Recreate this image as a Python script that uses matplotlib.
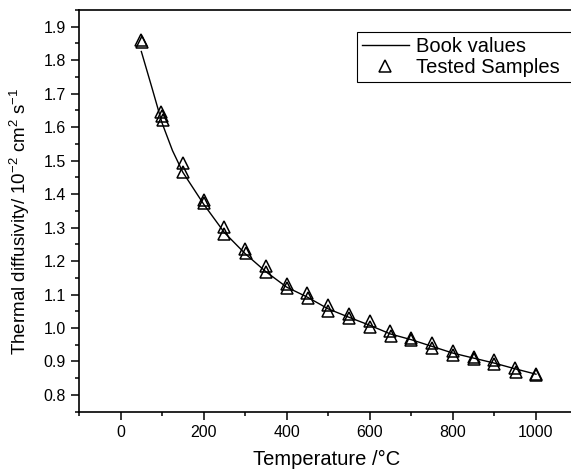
import matplotlib
matplotlib.use('Agg')
import matplotlib.pyplot as plt
from matplotlib.ticker import MultipleLocator

plt.rcParams['font.family'] = ['Liberation Sans', 'DejaVu Sans']
plt.rcParams['mathtext.fontset'] = 'custom'
plt.rcParams['mathtext.rm'] = 'Liberation Sans'
plt.rcParams['mathtext.it'] = 'Liberation Sans'
plt.rcParams['mathtext.default'] = 'regular'

# book values (line)
book_temp = [50, 75, 100, 125, 150, 200, 250, 300, 350, 400, 450, 500,
             550, 600, 650, 700, 750, 800, 850, 900, 950, 1000]
book_diff = [1.826, 1.72, 1.612, 1.53, 1.465, 1.37, 1.285, 1.222, 1.168, 1.122, 1.092, 1.057,
             1.032, 1.008, 0.982, 0.965, 0.945, 0.925, 0.91, 0.895, 0.878, 0.862]

# tested samples (triangles)
sample_temp = [48, 52, 98, 100, 102, 150, 150, 200, 202, 250, 250, 299, 301,
               349, 351, 400, 400, 449, 451, 500, 500, 549, 551, 600, 600,
               649, 651, 700, 700, 750, 750, 800, 800, 850, 850, 900, 900,
               949, 951, 1000, 1000]
sample_diff = [1.860, 1.855, 1.645, 1.632, 1.620, 1.493, 1.466, 1.383, 1.372, 1.301, 1.280,
               1.235, 1.223, 1.184, 1.166, 1.130, 1.118, 1.105, 1.091, 1.068, 1.050,
               1.043, 1.031, 1.020, 1.002, 0.990, 0.975, 0.969, 0.965, 0.954, 0.939,
               0.930, 0.918, 0.912, 0.908, 0.903, 0.891, 0.879, 0.870, 0.864, 0.860]

fig = plt.figure(figsize=(5.71, 4.72), dpi=100)
ax = fig.add_axes([0.1384, 0.1278, 0.873, 0.851])

ax.plot(book_temp, book_diff, color='black', lw=1.0, label='Book values')
ax.plot(sample_temp, sample_diff, ls='none', marker='^', ms=8.5, mfc='none',
        mec='black', mew=1.1, label='Tested Samples')

ax.set_xlim(-100, 1100)
ax.set_ylim(0.75, 1.95)
ax.xaxis.set_minor_locator(MultipleLocator(100))
ax.yaxis.set_minor_locator(MultipleLocator(0.05))
ax.set_xticks([0, 200, 400, 600, 800, 1000])
ax.set_yticks([0.8, 0.9, 1.0, 1.1, 1.2, 1.3, 1.4, 1.5, 1.6, 1.7, 1.8, 1.9])

ax.tick_params(which='major', direction='out', length=6, width=1.1, labelsize=11.5, color='black')
ax.tick_params(which='minor', direction='out', length=3, width=1.1)
ax.tick_params(top=False, right=False, which='both')
for s in ax.spines.values():
    s.set_linewidth(1.2)
ax.spines['right'].set_visible(False)

ax.set_xlabel('Temperature /°C', fontsize=14.5)
ax.set_ylabel('Thermal diffusivity/ 10$^{-2}$ cm$^{2}$ s$^{-1}$', fontsize=13.5)
ax.xaxis.set_label_coords(0.496, -0.095)
ax.yaxis.set_label_coords(-0.094, 0.473)

leg = ax.legend(loc='upper left', bbox_to_anchor=(0.558, 0.8, 0.5, 0.145), mode='expand',
                borderaxespad=0, fontsize=14.5, frameon=True, fancybox=False,
                edgecolor='black', framealpha=1, handlelength=2.3, handletextpad=0.35,
                labelspacing=0.1, borderpad=0.25)
leg.get_frame().set_linewidth(0.8)

fig.savefig('out.png', dpi=100)
